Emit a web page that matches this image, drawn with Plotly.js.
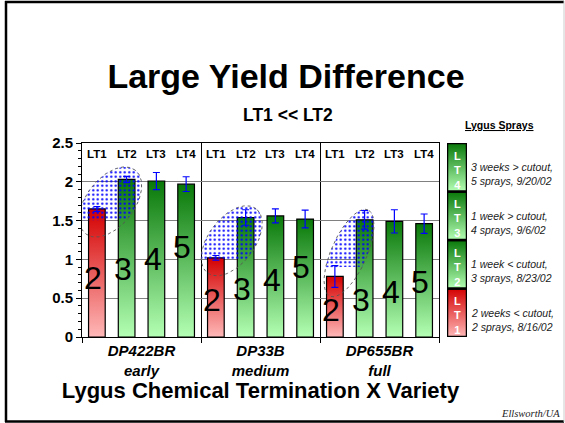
<!DOCTYPE html>
<html>
<head>
<meta charset="utf-8">
<script src="https://cdn.plot.ly/plotly-3.0.1.min.js"></script>
<style>
html, body { margin: 0; padding: 0; background: #ffffff; }
#chart { width: 565px; height: 423px; }
</style>
</head>
<body>
<div id="chart"></div>
<script>
// ---------------- data ----------------
const varieties = ['DP422BR', 'DP33B', 'DP655BR'];
const maturity = ['early', 'medium', 'full'];
const terminations = ['LT1', 'LT2', 'LT3', 'LT4'];
const sprays = [2, 3, 4, 5];
const cutoutTiming = ['2 weeks < cutout', '1 week < cutout', '1 week > cutout', '3 weeks > cutout'];
const sprayDates = ['8/16/02', '8/23/02', '9/6/02', '9/20/02'];
const yieldLT1 = [1.65, 1.02, 0.78];
const yieldLT2 = [2.03, 1.54, 1.51];
const yieldLT3 = [2.01, 1.56, 1.49];
const yieldLT4 = [1.97, 1.52, 1.46];
const errLT1 = [0.03, 0.03, 0.14];
const errLT2 = [0.04, 0.10, 0.12];
const errLT3 = [0.11, 0.09, 0.15];
const errLT4 = [0.095, 0.115, 0.125];
const yTickVals = [0, 0.5, 1, 1.5, 2, 2.5];
const yTickText = ['0', '0.5', '1', '1.5', '2', '2.5'];
const titleText = 'Large Yield Difference';
const subtitleText = 'LT1 << LT2';
const xTitleText = 'Lygus Chemical Termination X Variety';
const legendTitleText = 'Lygus Sprays';
const creditText = 'Ellsworth/UA';

// ---------------- layout / style ----------------
const FONT = 'Arial, "Liberation Sans", Helvetica, sans-serif';
const W = 565, H = 423;
const M = { l: 82, r: 98, t: 143, b: 86, pad: 0 };
const PW = W - M.l - M.r, PH = H - M.t - M.b;
const PLOT_RIGHT = 439, LEG_LEFT = 447;
const xMainEnd = (PLOT_RIGHT - M.l) / PW;
const xLegStart = (LEG_LEFT - M.l) / PW;
const nT = terminations.length;
const nSlots = varieties.length * nT;
const xRange = [-0.5, nSlots - 0.5];
const yRange = [0, 2.5];
const pxPerX = (PLOT_RIGHT - M.l) / nSlots;
const pxPerY = PH / (yRange[1] - yRange[0]);
const pxToPaperX = px => (px - M.l) / PW;
const pyToPaperY = py => (H - M.b - py) / PH;
const BAR_W = 0.56;
const RED = { light: '#ffb8b8', dark: '#d40000' };
const GREEN = { light: '#b4ffb4', dark: '#087808' };
const esc = s => s.replace(/</g, '&lt;').replace(/>/g, '&gt;');

const yieldsByTerm = [yieldLT1, yieldLT2, yieldLT3, yieldLT4];
const errsByTerm = [errLT1, errLT2, errLT3, errLT4];

// decorative ellipses (pixel radii, angle in deg), highlight the LT1->LT2 gap
const ellipses = [
  { cx: 0.458, cy: 1.740, a: 40.3, b: 24.0, angle: 52, cut: 1.5 },
  { cx: 4.532, cy: 1.240, a: 40.3, b: 23.1, angle: 52.8, cut: 1.0 },
  { cx: 8.475, cy: 1.082, a: 47.1, b: 17.8, angle: 66.3, cut: 0.9 }
];
// spray-count digit label heights (decorative positions)
const digitY = [[0.76, 0.88, 1.0, 1.16], [0.48, 0.62, 0.74, 0.90], [0.35, 0.48, 0.58, 0.71]];

const traces = [];
const errX = [], errY = [], errV = [];
const annotations = [];

varieties.forEach((v, g) => {
  terminations.forEach((term, t) => {
    const x = g * nT + t;
    const val = yieldsByTerm[t][g];
    const c = t === 0 ? RED : GREEN;
    traces.push({
      type: 'scatter', mode: 'lines', xaxis: 'x', yaxis: 'y',
      x: [x - BAR_W / 2, x - BAR_W / 2, x + BAR_W / 2, x + BAR_W / 2, x - BAR_W / 2],
      y: [0, val, val, 0, 0],
      fill: 'toself', fillcolor: c.dark,
      fillgradient: { type: 'vertical', colorscale: [[0, c.light], [1, c.dark]], start: 0, stop: val },
      line: { color: '#000000', width: 1.2 },
      hoverinfo: 'skip', showlegend: false
    });
    errX.push(x); errY.push(val); errV.push(errsByTerm[t][g]);
    // LT labels along the top of the plot
    annotations.push({
      xref: 'x', yref: 'y', x: x, y: yRange[1], yanchor: 'top', xanchor: 'center', yshift: -3,
      text: '<b>' + term + '</b>', showarrow: false,
      font: { family: FONT, size: 11.5, color: '#000' }
    });
    // spray count digits
    annotations.push({
      xref: 'x', yref: 'y', x: x - 0.13, y: digitY[g][t], xanchor: 'center', yanchor: 'middle',
      text: String(sprays[t]), showarrow: false,
      font: { family: FONT, size: 32, color: '#000' }
    });
  });
});

function ellipsePts(e, n) {
  const xs = [], ys = [];
  const th = e.angle * Math.PI / 180;
  for (let i = 0; i <= n; i++) {
    const t = 2 * Math.PI * i / n;
    const ex = e.a * Math.cos(t), ey = e.b * Math.sin(t);
    const X = ex * Math.cos(th) - ey * Math.sin(th);
    const Y = ex * Math.sin(th) + ey * Math.cos(th);
    xs.push(e.cx + X / pxPerX);
    ys.push(e.cy + Y / pxPerY);
  }
  return { xs, ys };
}

ellipses.forEach(e => {
  const p = ellipsePts(e, 120);
  traces.push({
    type: 'scatter', mode: 'lines', x: p.xs, y: p.ys.map(y => Math.max(y, e.cut)),
    fill: 'toself', fillcolor: 'rgba(0,0,0,0)',
    fillpattern: { shape: '.', fgcolor: '#0000ff', bgcolor: 'rgba(0,0,0,0)', size: 4.5, solidity: 0.2 },
    line: { width: 0 }, hoverinfo: 'skip', showlegend: false
  });
  traces.push({
    type: 'scatter', mode: 'lines', x: p.xs, y: p.ys,
    line: { color: '#555555', width: 0.9, dash: 'dot' }, hoverinfo: 'skip', showlegend: false
  });
});

traces.push({
  type: 'scatter', mode: 'markers', x: errX, y: errY,
  marker: { size: 1, color: 'rgba(0,0,0,0)' },
  error_y: { type: 'data', array: errV, visible: true, color: '#0000ff', thickness: 1.2, width: 3.5 },
  hoverinfo: 'skip', showlegend: false
});

// legend column (second subplot)
terminations.forEach((term, k) => {
  const c = k === 0 ? RED : GREEN;
  traces.push({
    type: 'scatter', mode: 'lines', xaxis: 'x2', yaxis: 'y2',
    x: [0, 0, 1, 1, 0], y: [k, k + 1, k + 1, k, k],
    fill: 'toself', fillcolor: c.dark,
    fillgradient: { type: 'vertical', colorscale: [[0, c.light], [1, c.dark]], start: k, stop: k + 1 },
    line: { color: '#000000', width: 2.5 }, hoverinfo: 'skip', showlegend: false
  });
  annotations.push({
    xref: 'x2', yref: 'y2', x: 0.5, y: k + 0.5, yshift: -3, xanchor: 'center', yanchor: 'middle',
    text: '<b>' + term.split('').join('<br>') + '</b>', showarrow: false,
    font: { family: FONT, size: 11, color: '#ffffff' }
  });
  annotations.push({
    xref: 'paper', yref: 'y2', x: pxToPaperX(469), y: k + 0.5, yshift: -7, xanchor: 'left', yanchor: 'middle',
    align: 'left', showarrow: false,
    text: '<i>' + esc(cutoutTiming[k]) + ',<br>' + sprays[k] + ' sprays, ' + sprayDates[k] + '</i>',
    font: { family: FONT, size: 10.5, color: '#222222' }
  });
});

annotations.push({
  xref: 'paper', yref: 'paper', x: pxToPaperX(287.5), y: pyToPaperY(114.5), xanchor: 'center', yanchor: 'middle',
  text: '<b>' + esc(subtitleText) + '</b>', showarrow: false, font: { family: FONT, size: 17.5, color: '#000' }
});
annotations.push({
  xref: 'paper', yref: 'paper', x: pxToPaperX(500), y: pyToPaperY(125), xanchor: 'center', yanchor: 'middle',
  text: '<b><u>' + legendTitleText + '</u></b>', showarrow: false, font: { family: FONT, size: 10.5, color: '#000' }
});
annotations.push({
  xref: 'paper', yref: 'paper', x: pxToPaperX(562), y: pyToPaperY(413), xanchor: 'right', yanchor: 'middle',
  text: '<i>' + creditText + '</i>', showarrow: false,
  font: { family: '"Liberation Serif", "Times New Roman", serif', size: 10.5, color: '#222' }
});

const groupCenters = varieties.map((v, g) => g * nT + (nT - 1) / 2);
const dividers = [];
for (let g = 0; g <= varieties.length; g++) dividers.push(g * nT - 0.5);

const shapes = [
  { type: 'line', xref: 'paper', yref: 'paper', x0: pxToPaperX(5), x1: pxToPaperX(564), y0: pyToPaperY(2), y1: pyToPaperY(2), line: { color: '#000', width: 2.5 } },
  { type: 'line', xref: 'paper', yref: 'paper', x0: pxToPaperX(6), x1: pxToPaperX(6), y0: pyToPaperY(1), y1: pyToPaperY(422), line: { color: '#000', width: 2.5 } },
  { type: 'line', xref: 'paper', yref: 'paper', x0: pxToPaperX(5), x1: pxToPaperX(564), y0: pyToPaperY(421.5), y1: pyToPaperY(421.5), line: { color: '#000', width: 2.5 } },
  { type: 'line', xref: 'paper', yref: 'paper', x0: pxToPaperX(564), x1: pxToPaperX(564), y0: pyToPaperY(1), y1: pyToPaperY(422), line: { color: '#cccccc', width: 1 } }
];

const layout = {
  width: W, height: H, margin: M,
  paper_bgcolor: '#ffffff', plot_bgcolor: '#ffffff',
  showlegend: false,
  font: { family: FONT, color: '#000' },
  title: {
    text: '<b>' + titleText + '</b>', x: 286 / W, xanchor: 'center',
    yref: 'container', y: 1 - 76 / H, yanchor: 'middle',
    font: { family: FONT, size: 34, color: '#000' }
  },
  xaxis: {
    domain: [0, xMainEnd], range: xRange, anchor: 'y',
    tickmode: 'array', tickvals: groupCenters,
    ticktext: varieties.map((v, g) => '<b><i>' + v + '</i></b><br><b><i>' + maturity[g] + '</i></b>'),
    ticks: '', showgrid: false, zeroline: false,
    showline: true, mirror: true, linecolor: '#000', linewidth: 1,
    tickfont: { family: FONT, size: 15, color: '#000' },
    minor: { tickmode: 'array', tickvals: dividers, ticks: 'outside', ticklen: 5, tickcolor: '#000', tickwidth: 1, showgrid: true, gridcolor: '#000', gridwidth: 1 },
    title: { text: '<b>' + xTitleText + '</b>', font: { family: FONT, size: 22, color: '#000' }, standoff: 4 },
    fixedrange: true
  },
  yaxis: {
    domain: [0, 1], range: yRange, anchor: 'x',
    tickmode: 'array', tickvals: yTickVals, ticktext: yTickText,
    ticks: 'outside', ticklen: 5, tickcolor: '#000', tickwidth: 1,
    showgrid: true, gridcolor: '#808080', gridwidth: 1, zeroline: false,
    showline: true, mirror: true, linecolor: '#000', linewidth: 1,
    tickfont: { family: FONT, size: 15, color: '#000', weight: 'bold' },
    minor: { tick0: 0, dtick: 0.1, ticks: 'outside', ticklen: 3, tickcolor: '#000', showgrid: false },
    fixedrange: true
  },
  xaxis2: { domain: [xLegStart, 1], range: [0, 1], anchor: 'y2', visible: false, fixedrange: true },
  yaxis2: { domain: [0, 1], range: [0, nT], anchor: 'x2', visible: false, fixedrange: true },
  annotations: annotations,
  shapes: shapes
};

Plotly.newPlot('chart', traces, layout, { displayModeBar: false, staticPlot: true });
</script>
</body>
</html>
